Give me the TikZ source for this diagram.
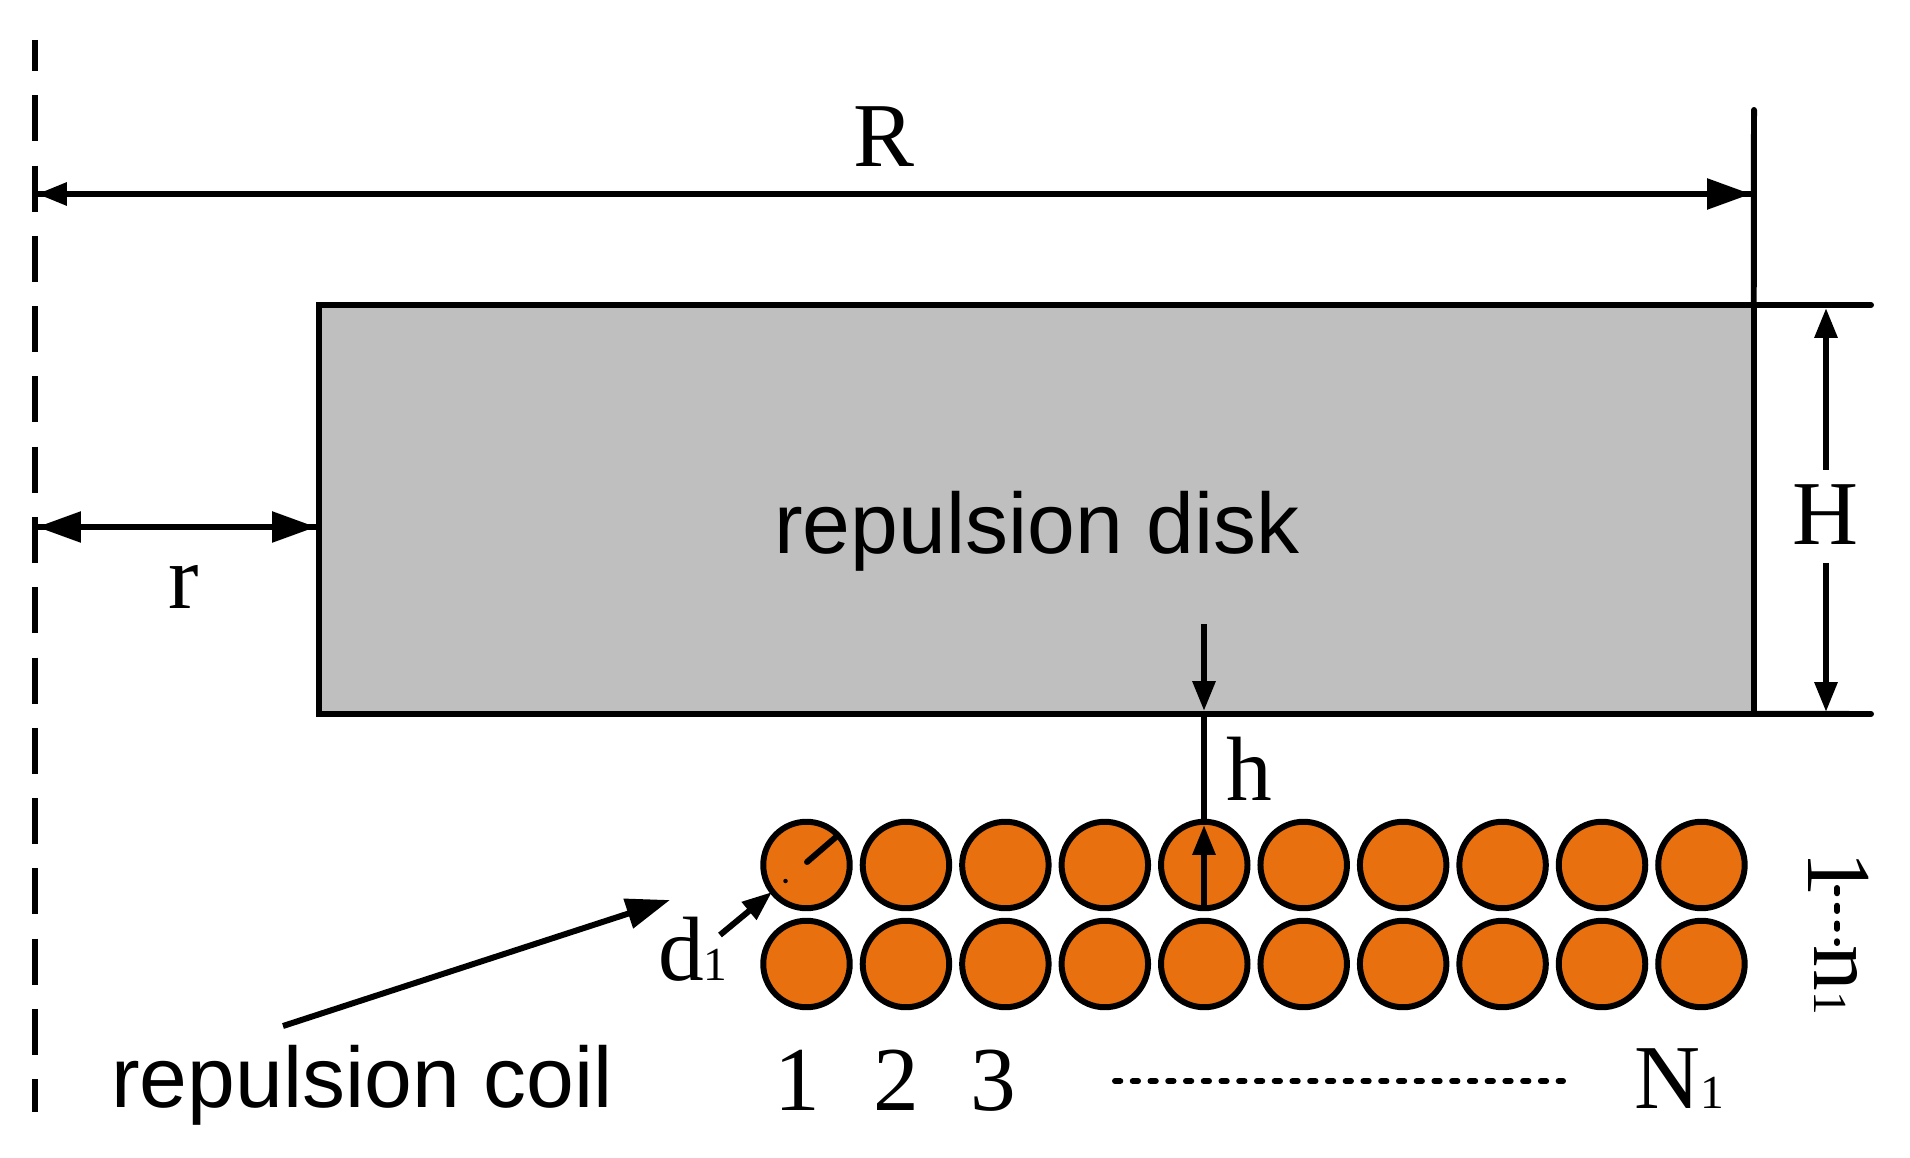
\documentclass[tikz,border=0pt]{standalone}
\usepackage{fontspec}
\setmainfont{Liberation Serif}
\setsansfont{Liberation Sans}
\usetikzlibrary{arrows.meta}
\definecolor{coilorange}{RGB}{233,112,14}
\definecolor{diskgray}{RGB}{191,191,191}
\newcommand{\subfont}{\fontsize{27}{30}\selectfont}
\tikzstyle{stroke} = [line width=3.4pt]
\tikzstyle{axisline} = [stroke, dash pattern=on 26.2pt off 13.8pt, dash phase=8.5pt]
\tikzstyle{arrow} = [stroke,->,>={Triangle[length=25pt,width=17pt]}]
\tikzstyle{smallarrow} = [stroke,->,>={Triangle[length=17pt,width=12.5pt]}]
\tikzstyle{sizetext} = [inner sep=0pt, anchor=base, font=\fontsize{52}{60}\selectfont]
\tikzstyle{parttext} = [inner sep=0pt, anchor=base, font=\sffamily\fontsize{48.9}{56}\selectfont]
\tikzstyle{wire} = [circle, draw=black, fill=coilorange, line width=3.4pt, inner sep=0pt, minimum size=1.73cm]
\tikzstyle{dotline} = [stroke, line cap=round, dash pattern=on 3pt off 7.1pt]

\begin{document}
\begin{tikzpicture}[x=0.02cm,y=-0.02cm]
        \useasboundingbox (0,0) rectangle (1910,1158);
        % disk
        \node (disk) [draw=black, fill=diskgray, line width=3.4pt, inner sep=0pt, outer sep=0pt, minimum width=28.7cm, minimum height=8.18cm, anchor=north west] at (319,305) {};
        \node (disktext) [parttext] at (1037,554) {repulsion disk};
        \coordinate (toptip) at (1871,305);
        \coordinate (bottip) at (1871,714);
        \coordinate (edgetop) at (1754,110);
        \coordinate (axistop) at (35,40);
        \coordinate (axisbot) at (35,1112);
        \draw [axisline] (axistop) -- (axisbot);
        % coil
        \foreach \i in {1,...,10} {
            \node (up\i) [wire] at ({806.5+99.44*(\i-1)},865) {};
            \node (lo\i) [wire] at ({806.5+99.44*(\i-1)},964) {};
        }
        % dimensions
        \coordinate (rleft) at (37,194);
        \coordinate (rright) at (1751,194);
        \draw [smallarrow] (rright) -- (rleft);
        \draw [arrow] (rleft) -- (rright);
        \node (bigr) [sizetext] at (884,167) {R};
        \coordinate (sleft) at (37,527);
        \coordinate (sright) at (316,527);
        \draw [arrow] (sleft) -- (sright);
        \draw [arrow] (sright) -- (sleft);
        \node (smallr) [sizetext] at (184,608) {r};
        \node (bigh) [sizetext] at (1825,544) {H};
        \coordinate (hup) at (1826,308);
        \coordinate (hmidup) at (1826,470);
        \coordinate (hmiddown) at (1826,563);
        \coordinate (hdown) at (1826,712);
        \draw [smallarrow] (hmidup) -- (hup);
        \draw [smallarrow] (hmiddown) -- (hdown);
        \coordinate (gaptop) at (1204,624);
        \coordinate (gapdisk) at (1204,711);
        \coordinate (gapwire) at (1204,825);
        \coordinate (gapbot) at (1204,910);
        \draw [smallarrow] (gaptop) -- (gapdisk);
        \draw [stroke] (gapdisk) -- (gapwire);
        \draw [smallarrow] (gapbot) -- (gapwire);
        \node (smallh) [sizetext] at (1249,800) {h};
        % wire diameter
        \coordinate (wirec) at (807,862);
        \coordinate (wirer) at (836,837);
        \draw [stroke, line cap=round] (wirec) -- (wirer);
        \node (wiredot) [circle, fill=black, inner sep=0pt, minimum size=0.09cm] at (785.5,881) {};
        \node (done) [sizetext] at (693,980) {d{\subfont 1}};
        \coordinate (dfrom) at (720,935);
        \coordinate (dto) at (772,892);
        \draw [smallarrow] (dfrom) -- (dto);
        % names
        \node (coiltext) [parttext, anchor=base west] at (111,1107) {repulsion coil};
        \coordinate (coilfrom) at (283,1026);
        \coordinate (coilto) at (670,900);
        \draw [arrow] (coilfrom) -- (coilto);
        % numbering
        \node (no1) [sizetext] at (797,1110) {1};
        \node (no2) [sizetext] at (896,1110) {2};
        \node (no3) [sizetext] at (993,1110) {3};
        \node (noN) [sizetext] at (1679,1108) {N{\subfont 1}};
        \coordinate (dotsleft) at (1115,1081);
        \coordinate (dotsright) at (1563,1081);
        \draw [dotline] (dotsleft) -- (dotsright);
        \node (layer1) [sizetext, anchor=base west, rotate=-90] at (1808,851) {1};
        \node (layern) [sizetext, anchor=base west, rotate=-90] at (1814,945) {n{\subfont 1}};
        \coordinate (layerdots) at (1837,888);
        \coordinate (layerdote) at (1837,943);
        \draw [dotline] (layerdots) -- (layerdote);
        % edges
        \draw [stroke, line cap=round] (disk.north east) -- (toptip);
        \draw [stroke, line cap=round] (disk.south east) -- (bottip);
        \draw [stroke, line cap=round] (edgetop) -- (disk.north east);
    \end{tikzpicture}
\end{document}
